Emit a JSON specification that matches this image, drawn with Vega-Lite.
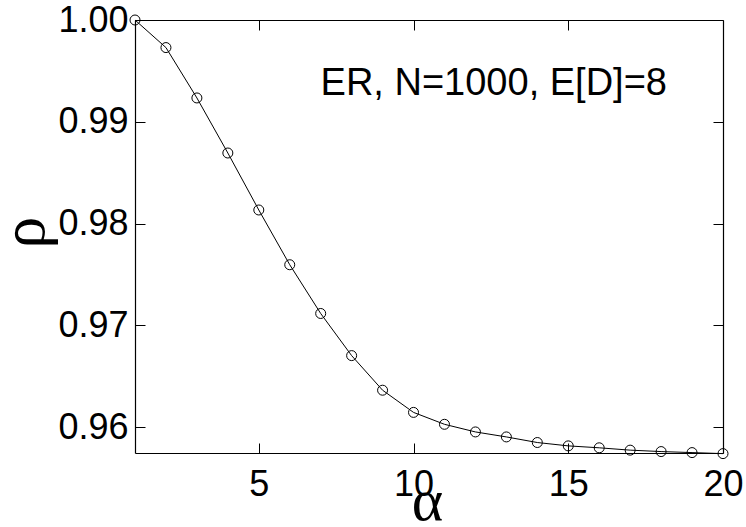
{
  "$schema": "https://vega.github.io/schema/vega-lite/v6.json",
  "width": 588,
  "height": 433,
  "autosize": "none",
  "padding": {"left": 135, "top": 20, "right": 23, "bottom": 74},
  "background": "white",
  "config": {
    "view": {"stroke": null},
    "axis": {
      "domainColor": "black",
      "domainWidth": 1.2,
      "tickColor": "black",
      "tickWidth": 1,
      "grid": false,
      "labelFont": "Liberation Sans",
      "labelFontSize": 36,
      "labelColor": "black",
      "labelFlush": false,
      "labelOverlap": false,
      "labelBound": false,
      "titleFont": "Liberation Serif",
      "titleFontWeight": "normal",
      "titleColor": "black"
    }
  },
  "data": {
    "values": [
      {"alpha": 1, "rho": 1.0},
      {"alpha": 2, "rho": 0.99729},
      {"alpha": 3, "rho": 0.99234},
      {"alpha": 4, "rho": 0.98693},
      {"alpha": 5, "rho": 0.98133},
      {"alpha": 6, "rho": 0.97595},
      {"alpha": 7, "rho": 0.97116},
      {"alpha": 8, "rho": 0.96702},
      {"alpha": 9, "rho": 0.96362},
      {"alpha": 10, "rho": 0.96144},
      {"alpha": 11, "rho": 0.96027},
      {"alpha": 12, "rho": 0.95952},
      {"alpha": 13, "rho": 0.95903},
      {"alpha": 14, "rho": 0.95848},
      {"alpha": 15, "rho": 0.95815},
      {"alpha": 16, "rho": 0.95796},
      {"alpha": 17, "rho": 0.95773},
      {"alpha": 18, "rho": 0.95759},
      {"alpha": 19, "rho": 0.95749},
      {"alpha": 20, "rho": 0.95739}
    ]
  },
  "resolve": {"axis": {"x": "independent", "y": "independent"}},
  "layer": [
    {
      "mark": {"type": "line", "color": "black", "strokeWidth": 1},
      "encoding": {
        "x": {
          "field": "alpha", "type": "quantitative",
          "scale": {"domain": [1, 20], "nice": false, "zero": false},
          "axis": {
            "orient": "bottom", "values": [5, 10, 15, 20], "format": "d",
            "tickSize": -10, "labelPadding": 24,
            "title": "α", "titleFontSize": 60, "titleX": 292, "titleY": 66,
            "titleBaseline": "alphabetic", "titleAlign": "center"
          }
        },
        "y": {
          "field": "rho", "type": "quantitative",
          "scale": {"domain": [0.95745, 1.0], "nice": false, "zero": false},
          "axis": {
            "orient": "left", "values": [0.96, 0.97, 0.98, 0.99, 1.0], "format": ".2f",
            "tickSize": -10, "labelPadding": 17,
            "title": "ρ", "titleFontSize": 64, "titleAngle": -90, "titleX": -92, "titleY": 212,
            "titleBaseline": "alphabetic", "titleAlign": "center"
          }
        }
      }
    },
    {
      "mark": {"type": "point", "shape": "circle", "filled": false, "stroke": "black", "strokeWidth": 1, "size": 100, "opacity": 1},
      "encoding": {
        "x": {
          "field": "alpha", "type": "quantitative",
          "axis": {"orient": "top", "values": [5, 10, 15], "labels": false, "title": null, "tickSize": -10}
        },
        "y": {
          "field": "rho", "type": "quantitative",
          "axis": {"orient": "right", "values": [0.96, 0.97, 0.98, 0.99, 1.0], "labels": false, "title": null, "tickSize": -10}
        }
      }
    },
    {
      "data": {"values": [{"alpha": 18.19, "rho": 0.99267, "label": "ER, N=1000, E[D]=8"}]},
      "mark": {"type": "text", "align": "right", "baseline": "alphabetic", "font": "Liberation Sans", "fontSize": 38, "color": "black"},
      "encoding": {
        "x": {"field": "alpha", "type": "quantitative", "axis": null},
        "y": {"field": "rho", "type": "quantitative", "axis": null},
        "text": {"field": "label"}
      }
    }
  ]
}
